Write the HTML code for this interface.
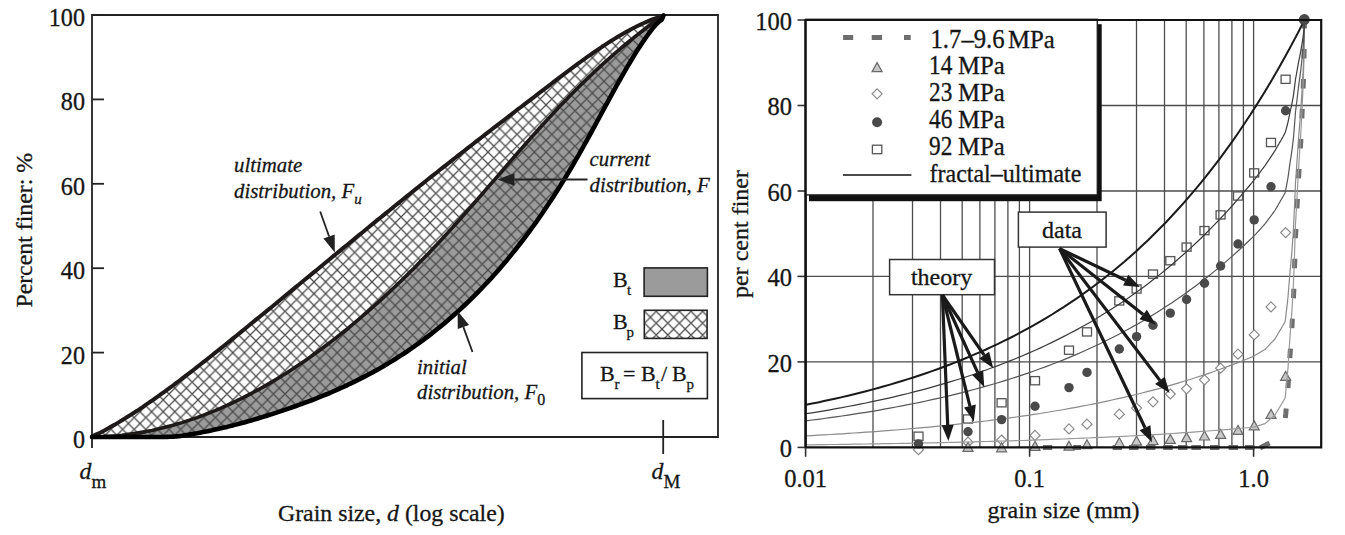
<!DOCTYPE html>
<html><head><meta charset="utf-8"><style>
html,body{margin:0;padding:0;background:#fff;}
svg{display:block;}
text{font-family:"Liberation Serif",serif;fill:#161616;stroke:#161616;stroke-width:0.3px;}
.tl{font-size:23px;}
.tr{font-size:24px;}
.ax{font-size:23.8px;}
.it{font-size:20.8px;font-style:italic;}
.sub{font-size:15px;font-style:italic;}
.subr{font-size:16px;font-style:normal;}
.lg{font-size:22px;}
.sub2{font-size:15px;}
.sub3{font-size:19px;font-style:normal;}
</style></head><body>
<svg width="1345" height="535" viewBox="0 0 1345 535">
<rect width="1345" height="535" fill="#fff"/>
<defs>
<pattern id="hatch" patternUnits="userSpaceOnUse" x="302.4" y="305.5" width="11.6" height="11.8"><path d="M0 0 L11.6 11.8 M11.6 0 L0 11.8 M-5.8 5.9 L0 11.8 M5.8 -5.9 L17.4 5.9 M-5.8 5.9 L5.8 -5.9 M5.8 17.7 L17.4 5.9" stroke="#4a4a4a" stroke-width="1.25" fill="none"/></pattern>
</defs>
<path d="M92 437 L95 434.8 L98 433.7 L101 432.3 L104 430.7 L107 429 L110 427.3 L113 425.6 L116 423.9 L119 422.1 L122 420.3 L125 418.4 L128 416.5 L131 414.6 L134 412.7 L137 410.8 L140 408.8 L143 406.8 L146 404.7 L149 402.7 L152 400.6 L155 398.5 L158 396.4 L161 394.2 L164 392.1 L167 389.9 L170 387.7 L173 385.5 L176 383.2 L179 381 L182 378.7 L185 376.4 L188 374.1 L191 371.8 L194 369.5 L197 367.2 L200 364.8 L203 362.4 L206 360.1 L209 357.7 L212 355.3 L215 352.9 L218 350.5 L221 348.1 L224 345.7 L227 343.3 L230 340.9 L233 338.4 L236 336 L239 333.6 L242 331.1 L245 328.7 L248 326.3 L251 323.8 L254 321.4 L257 318.9 L260 316.5 L263 314 L266 311.6 L269 309.1 L272 306.7 L275 304.2 L278 301.7 L281 299.3 L284 296.8 L287 294.3 L290 291.9 L293 289.4 L296 286.9 L299 284.5 L302 282 L305 279.5 L308 277.1 L311 274.6 L314 272.1 L317 269.7 L320 267.2 L323 264.7 L326 262.2 L329 259.8 L332 257.3 L335 254.8 L338 252.4 L341 249.9 L344 247.4 L347 245 L350 242.5 L353 240.1 L356 237.6 L359 235.1 L362 232.7 L365 230.2 L368 227.8 L371 225.3 L374 222.9 L377 220.4 L380 218 L383 215.6 L386 213.1 L389 210.7 L392 208.2 L395 205.8 L398 203.4 L401 201 L404 198.5 L407 196.1 L410 193.7 L413 191.3 L416 188.9 L419 186.5 L422 184.1 L425 181.7 L428 179.3 L431 176.9 L434 174.6 L437 172.2 L440 169.8 L443 167.4 L446 165.1 L449 162.7 L452 160.4 L455 158 L458 155.7 L461 153.3 L464 151 L467 148.6 L470 146.3 L473 144 L476 141.6 L479 139.3 L482 137 L485 134.6 L488 132.3 L491 130 L494 127.7 L497 125.4 L500 123.1 L503 120.8 L506 118.5 L509 116.2 L512 113.9 L515 111.5 L518 109.2 L521 107 L524 104.7 L527 102.4 L530 100.1 L533 97.8 L536 95.5 L539 93.2 L542 90.9 L545 88.6 L548 86.3 L551 84 L554 81.7 L557 79.4 L560 77.2 L563 74.9 L566 72.6 L569 70.4 L572 68.1 L575 65.9 L578 63.7 L581 61.5 L584 59.3 L587 57.2 L590 55.1 L593 53 L596 50.9 L599 48.8 L602 46.8 L605 44.9 L608 42.9 L611 41 L614 39.1 L617 37.3 L620 35.5 L623 33.8 L626 32.1 L629 30.4 L632 28.8 L635 27.3 L638 25.8 L641 24.4 L644 23 L647 21.7 L650 20.4 L653 19.2 L656 18.2 L659 17.3 L662 16.6 L663.4 15.5 L663.4 15.5 L662 17.9 L659 19.2 L656 20.9 L653 22.9 L650 25.2 L647 27.4 L644 29.7 L641 32 L638 34.3 L635 36.7 L632 39.1 L629 41.5 L626 44 L623 46.5 L620 49 L617 51.6 L614 54.2 L611 56.8 L608 59.5 L605 62.2 L602 64.9 L599 67.6 L596 70.4 L593 73.2 L590 76.1 L587 79 L584 81.9 L581 84.8 L578 87.8 L575 90.8 L572 93.8 L569 96.8 L566 99.9 L563 103 L560 106.1 L557 109.3 L554 112.5 L551 115.7 L548 118.9 L545 122.2 L542 125.5 L539 128.8 L536 132.2 L533 135.5 L530 138.9 L527 142.3 L524 145.7 L521 149.1 L518 152.5 L515 156 L512 159.4 L509 162.9 L506 166.4 L503 169.8 L500 173.3 L497 176.8 L494 180.3 L491 183.8 L488 187.2 L485 190.7 L482 194.2 L479 197.6 L476 201.1 L473 204.5 L470 207.9 L467 211.3 L464 214.7 L461 218.1 L458 221.5 L455 224.8 L452 228.1 L449 231.4 L446 234.7 L443 238 L440 241.2 L437 244.4 L434 247.6 L431 250.7 L428 253.9 L425 257 L422 260.1 L419 263.1 L416 266.2 L413 269.2 L410 272.1 L407 275.1 L404 278 L401 281 L398 283.8 L395 286.7 L392 289.5 L389 292.4 L386 295.1 L383 297.9 L380 300.6 L377 303.3 L374 306 L371 308.7 L368 311.3 L365 313.9 L362 316.5 L359 319.1 L356 321.6 L353 324.1 L350 326.6 L347 329.1 L344 331.5 L341 333.9 L338 336.3 L335 338.6 L332 340.9 L329 343.2 L326 345.5 L323 347.8 L320 350 L317 352.2 L314 354.3 L311 356.5 L308 358.6 L305 360.7 L302 362.7 L299 364.8 L296 366.8 L293 368.8 L290 370.7 L287 372.7 L284 374.5 L281 376.4 L278 378.3 L275 380.1 L272 381.9 L269 383.6 L266 385.4 L263 387.1 L260 388.8 L257 390.4 L254 392 L251 393.6 L248 395.2 L245 396.7 L242 398.3 L239 399.7 L236 401.2 L233 402.6 L230 404 L227 405.4 L224 406.7 L221 408.1 L218 409.3 L215 410.6 L212 411.8 L209 413 L206 414.2 L203 415.4 L200 416.5 L197 417.6 L194 418.6 L191 419.6 L188 420.6 L185 421.6 L182 422.6 L179 423.5 L176 424.3 L173 425.2 L170 426 L167 426.8 L164 427.6 L161 428.3 L158 429 L155 429.7 L152 430.4 L149 431 L146 431.6 L143 432.1 L140 432.6 L137 433.1 L134 433.6 L131 434 L128 434.4 L125 434.8 L122 435.2 L119 435.5 L116 435.8 L113 436 L110 436.2 L107 436.4 L104 436.6 L101 436.7 L98 436.8 L95 436.9 L92 437 Z" fill="#fff"/>
<path d="M92 437 L95 436.9 L98 436.8 L101 436.7 L104 436.6 L107 436.4 L110 436.2 L113 436 L116 435.8 L119 435.5 L122 435.2 L125 434.8 L128 434.4 L131 434 L134 433.6 L137 433.1 L140 432.6 L143 432.1 L146 431.6 L149 431 L152 430.4 L155 429.7 L158 429 L161 428.3 L164 427.6 L167 426.8 L170 426 L173 425.2 L176 424.3 L179 423.5 L182 422.6 L185 421.6 L188 420.6 L191 419.6 L194 418.6 L197 417.6 L200 416.5 L203 415.4 L206 414.2 L209 413 L212 411.8 L215 410.6 L218 409.3 L221 408.1 L224 406.7 L227 405.4 L230 404 L233 402.6 L236 401.2 L239 399.7 L242 398.3 L245 396.7 L248 395.2 L251 393.6 L254 392 L257 390.4 L260 388.8 L263 387.1 L266 385.4 L269 383.6 L272 381.9 L275 380.1 L278 378.3 L281 376.4 L284 374.5 L287 372.7 L290 370.7 L293 368.8 L296 366.8 L299 364.8 L302 362.7 L305 360.7 L308 358.6 L311 356.5 L314 354.3 L317 352.2 L320 350 L323 347.8 L326 345.5 L329 343.2 L332 340.9 L335 338.6 L338 336.3 L341 333.9 L344 331.5 L347 329.1 L350 326.6 L353 324.1 L356 321.6 L359 319.1 L362 316.5 L365 313.9 L368 311.3 L371 308.7 L374 306 L377 303.3 L380 300.6 L383 297.9 L386 295.1 L389 292.4 L392 289.5 L395 286.7 L398 283.8 L401 281 L404 278 L407 275.1 L410 272.1 L413 269.2 L416 266.2 L419 263.1 L422 260.1 L425 257 L428 253.9 L431 250.7 L434 247.6 L437 244.4 L440 241.2 L443 238 L446 234.7 L449 231.4 L452 228.1 L455 224.8 L458 221.5 L461 218.1 L464 214.7 L467 211.3 L470 207.9 L473 204.5 L476 201.1 L479 197.6 L482 194.2 L485 190.7 L488 187.2 L491 183.8 L494 180.3 L497 176.8 L500 173.3 L503 169.8 L506 166.4 L509 162.9 L512 159.4 L515 156 L518 152.5 L521 149.1 L524 145.7 L527 142.3 L530 138.9 L533 135.5 L536 132.2 L539 128.8 L542 125.5 L545 122.2 L548 118.9 L551 115.7 L554 112.5 L557 109.3 L560 106.1 L563 103 L566 99.9 L569 96.8 L572 93.8 L575 90.8 L578 87.8 L581 84.8 L584 81.9 L587 79 L590 76.1 L593 73.2 L596 70.4 L599 67.6 L602 64.9 L605 62.2 L608 59.5 L611 56.8 L614 54.2 L617 51.6 L620 49 L623 46.5 L626 44 L629 41.5 L632 39.1 L635 36.7 L638 34.3 L641 32 L644 29.7 L647 27.4 L650 25.2 L653 22.9 L656 20.9 L659 19.2 L662 17.9 L663.4 15.5 L663.4 15.5 L662 19.3 L659 21.6 L656 24.5 L653 27.9 L650 31.9 L647 36 L644 40.3 L641 44.7 L638 49.3 L635 54.1 L632 59 L629 64 L626 69.1 L623 74.3 L620 79.6 L617 84.9 L614 90.4 L611 95.8 L608 101.4 L605 106.9 L602 112.5 L599 118 L596 123.6 L593 129.1 L590 134.6 L587 140.1 L584 145.5 L581 150.9 L578 156.1 L575 161.4 L572 166.5 L569 171.6 L566 176.5 L563 181.4 L560 186.3 L557 191 L554 195.7 L551 200.3 L548 204.8 L545 209.3 L542 213.7 L539 218 L536 222.3 L533 226.5 L530 230.6 L527 234.6 L524 238.6 L521 242.5 L518 246.4 L515 250.2 L512 253.9 L509 257.6 L506 261.2 L503 264.8 L500 268.2 L497 271.7 L494 275 L491 278.4 L488 281.6 L485 284.8 L482 288 L479 291.1 L476 294.1 L473 297.1 L470 300.1 L467 303 L464 305.8 L461 308.6 L458 311.4 L455 314.1 L452 316.7 L449 319.3 L446 321.9 L443 324.4 L440 326.9 L437 329.3 L434 331.7 L431 334.1 L428 336.4 L425 338.7 L422 340.9 L419 343.1 L416 345.2 L413 347.3 L410 349.4 L407 351.5 L404 353.5 L401 355.4 L398 357.3 L395 359.2 L392 361.1 L389 362.9 L386 364.7 L383 366.5 L380 368.2 L377 369.9 L374 371.6 L371 373.2 L368 374.8 L365 376.4 L362 377.9 L359 379.4 L356 380.9 L353 382.4 L350 383.8 L347 385.3 L344 386.7 L341 388 L338 389.4 L335 390.7 L332 392 L329 393.3 L326 394.5 L323 395.7 L320 396.9 L317 398.1 L314 399.3 L311 400.5 L308 401.6 L305 402.7 L302 403.8 L299 404.9 L296 406 L293 407 L290 408.1 L287 409.1 L284 410.1 L281 411.1 L278 412.1 L275 413.1 L272 414.1 L269 415 L266 416 L263 416.9 L260 417.8 L257 418.7 L254 419.6 L251 420.5 L248 421.3 L245 422.2 L242 423 L239 423.8 L236 424.6 L233 425.4 L230 426.1 L227 426.9 L224 427.6 L221 428.3 L218 429 L215 429.6 L212 430.3 L209 430.9 L206 431.5 L203 432.1 L200 432.7 L197 433.3 L194 433.8 L191 434.3 L188 434.8 L185 435.2 L182 435.7 L179 436.1 L176 436.4 L173 436.6 L170 436.8 L167 436.9 L164 437 L161 437 L158 437 L155 437 L152 437 L149 437 L146 437 L143 437 L140 437 L137 437 L134 437 L131 437 L128 437 L125 437 L122 437 L119 437 L116 437 L113 437 L110 437 L107 437 L104 437 L101 437 L98 437 L95 437 L92 437 Z" fill="#9b9b9b"/>
<path d="M92 437 L95 434.8 L98 433.7 L101 432.3 L104 430.7 L107 429 L110 427.3 L113 425.6 L116 423.9 L119 422.1 L122 420.3 L125 418.4 L128 416.5 L131 414.6 L134 412.7 L137 410.8 L140 408.8 L143 406.8 L146 404.7 L149 402.7 L152 400.6 L155 398.5 L158 396.4 L161 394.2 L164 392.1 L167 389.9 L170 387.7 L173 385.5 L176 383.2 L179 381 L182 378.7 L185 376.4 L188 374.1 L191 371.8 L194 369.5 L197 367.2 L200 364.8 L203 362.4 L206 360.1 L209 357.7 L212 355.3 L215 352.9 L218 350.5 L221 348.1 L224 345.7 L227 343.3 L230 340.9 L233 338.4 L236 336 L239 333.6 L242 331.1 L245 328.7 L248 326.3 L251 323.8 L254 321.4 L257 318.9 L260 316.5 L263 314 L266 311.6 L269 309.1 L272 306.7 L275 304.2 L278 301.7 L281 299.3 L284 296.8 L287 294.3 L290 291.9 L293 289.4 L296 286.9 L299 284.5 L302 282 L305 279.5 L308 277.1 L311 274.6 L314 272.1 L317 269.7 L320 267.2 L323 264.7 L326 262.2 L329 259.8 L332 257.3 L335 254.8 L338 252.4 L341 249.9 L344 247.4 L347 245 L350 242.5 L353 240.1 L356 237.6 L359 235.1 L362 232.7 L365 230.2 L368 227.8 L371 225.3 L374 222.9 L377 220.4 L380 218 L383 215.6 L386 213.1 L389 210.7 L392 208.2 L395 205.8 L398 203.4 L401 201 L404 198.5 L407 196.1 L410 193.7 L413 191.3 L416 188.9 L419 186.5 L422 184.1 L425 181.7 L428 179.3 L431 176.9 L434 174.6 L437 172.2 L440 169.8 L443 167.4 L446 165.1 L449 162.7 L452 160.4 L455 158 L458 155.7 L461 153.3 L464 151 L467 148.6 L470 146.3 L473 144 L476 141.6 L479 139.3 L482 137 L485 134.6 L488 132.3 L491 130 L494 127.7 L497 125.4 L500 123.1 L503 120.8 L506 118.5 L509 116.2 L512 113.9 L515 111.5 L518 109.2 L521 107 L524 104.7 L527 102.4 L530 100.1 L533 97.8 L536 95.5 L539 93.2 L542 90.9 L545 88.6 L548 86.3 L551 84 L554 81.7 L557 79.4 L560 77.2 L563 74.9 L566 72.6 L569 70.4 L572 68.1 L575 65.9 L578 63.7 L581 61.5 L584 59.3 L587 57.2 L590 55.1 L593 53 L596 50.9 L599 48.8 L602 46.8 L605 44.9 L608 42.9 L611 41 L614 39.1 L617 37.3 L620 35.5 L623 33.8 L626 32.1 L629 30.4 L632 28.8 L635 27.3 L638 25.8 L641 24.4 L644 23 L647 21.7 L650 20.4 L653 19.2 L656 18.2 L659 17.3 L662 16.6 L663.4 15.5 L663.4 15.5 L662 19.3 L659 21.6 L656 24.5 L653 27.9 L650 31.9 L647 36 L644 40.3 L641 44.7 L638 49.3 L635 54.1 L632 59 L629 64 L626 69.1 L623 74.3 L620 79.6 L617 84.9 L614 90.4 L611 95.8 L608 101.4 L605 106.9 L602 112.5 L599 118 L596 123.6 L593 129.1 L590 134.6 L587 140.1 L584 145.5 L581 150.9 L578 156.1 L575 161.4 L572 166.5 L569 171.6 L566 176.5 L563 181.4 L560 186.3 L557 191 L554 195.7 L551 200.3 L548 204.8 L545 209.3 L542 213.7 L539 218 L536 222.3 L533 226.5 L530 230.6 L527 234.6 L524 238.6 L521 242.5 L518 246.4 L515 250.2 L512 253.9 L509 257.6 L506 261.2 L503 264.8 L500 268.2 L497 271.7 L494 275 L491 278.4 L488 281.6 L485 284.8 L482 288 L479 291.1 L476 294.1 L473 297.1 L470 300.1 L467 303 L464 305.8 L461 308.6 L458 311.4 L455 314.1 L452 316.7 L449 319.3 L446 321.9 L443 324.4 L440 326.9 L437 329.3 L434 331.7 L431 334.1 L428 336.4 L425 338.7 L422 340.9 L419 343.1 L416 345.2 L413 347.3 L410 349.4 L407 351.5 L404 353.5 L401 355.4 L398 357.3 L395 359.2 L392 361.1 L389 362.9 L386 364.7 L383 366.5 L380 368.2 L377 369.9 L374 371.6 L371 373.2 L368 374.8 L365 376.4 L362 377.9 L359 379.4 L356 380.9 L353 382.4 L350 383.8 L347 385.3 L344 386.7 L341 388 L338 389.4 L335 390.7 L332 392 L329 393.3 L326 394.5 L323 395.7 L320 396.9 L317 398.1 L314 399.3 L311 400.5 L308 401.6 L305 402.7 L302 403.8 L299 404.9 L296 406 L293 407 L290 408.1 L287 409.1 L284 410.1 L281 411.1 L278 412.1 L275 413.1 L272 414.1 L269 415 L266 416 L263 416.9 L260 417.8 L257 418.7 L254 419.6 L251 420.5 L248 421.3 L245 422.2 L242 423 L239 423.8 L236 424.6 L233 425.4 L230 426.1 L227 426.9 L224 427.6 L221 428.3 L218 429 L215 429.6 L212 430.3 L209 430.9 L206 431.5 L203 432.1 L200 432.7 L197 433.3 L194 433.8 L191 434.3 L188 434.8 L185 435.2 L182 435.7 L179 436.1 L176 436.4 L173 436.6 L170 436.8 L167 436.9 L164 437 L161 437 L158 437 L155 437 L152 437 L149 437 L146 437 L143 437 L140 437 L137 437 L134 437 L131 437 L128 437 L125 437 L122 437 L119 437 L116 437 L113 437 L110 437 L107 437 L104 437 L101 437 L98 437 L95 437 L92 437 Z" fill="url(#hatch)"/>
<path d="M92 15 H718 V437 H92 Z" fill="none" stroke="#222" stroke-width="1.8"/>
<path d="M92 15 H104" stroke="#222" stroke-width="1.8"/>
<text transform="translate(85,26) scale(1.05,1.08)" text-anchor="end" class="tl">100</text>
<path d="M92 99.4 H104" stroke="#222" stroke-width="1.8"/>
<text transform="translate(85,110.4) scale(1.05,1.08)" text-anchor="end" class="tl">80</text>
<path d="M92 183.8 H104" stroke="#222" stroke-width="1.8"/>
<text transform="translate(85,194.8) scale(1.05,1.08)" text-anchor="end" class="tl">60</text>
<path d="M92 268.2 H104" stroke="#222" stroke-width="1.8"/>
<text transform="translate(85,279.2) scale(1.05,1.08)" text-anchor="end" class="tl">40</text>
<path d="M92 352.6 H104" stroke="#222" stroke-width="1.8"/>
<text transform="translate(85,363.6) scale(1.05,1.08)" text-anchor="end" class="tl">20</text>
<path d="M92 437 H104" stroke="#222" stroke-width="1.8"/>
<text transform="translate(85,448) scale(1.05,1.08)" text-anchor="end" class="tl">0</text>
<path d="M92 437 V448 M663.2 420 V454" stroke="#222" stroke-width="1.8" fill="none"/>
<path d="M92 437 L95 434.8 L98 433.7 L101 432.3 L104 430.7 L107 429 L110 427.3 L113 425.6 L116 423.9 L119 422.1 L122 420.3 L125 418.4 L128 416.5 L131 414.6 L134 412.7 L137 410.8 L140 408.8 L143 406.8 L146 404.7 L149 402.7 L152 400.6 L155 398.5 L158 396.4 L161 394.2 L164 392.1 L167 389.9 L170 387.7 L173 385.5 L176 383.2 L179 381 L182 378.7 L185 376.4 L188 374.1 L191 371.8 L194 369.5 L197 367.2 L200 364.8 L203 362.4 L206 360.1 L209 357.7 L212 355.3 L215 352.9 L218 350.5 L221 348.1 L224 345.7 L227 343.3 L230 340.9 L233 338.4 L236 336 L239 333.6 L242 331.1 L245 328.7 L248 326.3 L251 323.8 L254 321.4 L257 318.9 L260 316.5 L263 314 L266 311.6 L269 309.1 L272 306.7 L275 304.2 L278 301.7 L281 299.3 L284 296.8 L287 294.3 L290 291.9 L293 289.4 L296 286.9 L299 284.5 L302 282 L305 279.5 L308 277.1 L311 274.6 L314 272.1 L317 269.7 L320 267.2 L323 264.7 L326 262.2 L329 259.8 L332 257.3 L335 254.8 L338 252.4 L341 249.9 L344 247.4 L347 245 L350 242.5 L353 240.1 L356 237.6 L359 235.1 L362 232.7 L365 230.2 L368 227.8 L371 225.3 L374 222.9 L377 220.4 L380 218 L383 215.6 L386 213.1 L389 210.7 L392 208.2 L395 205.8 L398 203.4 L401 201 L404 198.5 L407 196.1 L410 193.7 L413 191.3 L416 188.9 L419 186.5 L422 184.1 L425 181.7 L428 179.3 L431 176.9 L434 174.6 L437 172.2 L440 169.8 L443 167.4 L446 165.1 L449 162.7 L452 160.4 L455 158 L458 155.7 L461 153.3 L464 151 L467 148.6 L470 146.3 L473 144 L476 141.6 L479 139.3 L482 137 L485 134.6 L488 132.3 L491 130 L494 127.7 L497 125.4 L500 123.1 L503 120.8 L506 118.5 L509 116.2 L512 113.9 L515 111.5 L518 109.2 L521 107 L524 104.7 L527 102.4 L530 100.1 L533 97.8 L536 95.5 L539 93.2 L542 90.9 L545 88.6 L548 86.3 L551 84 L554 81.7 L557 79.4 L560 77.2 L563 74.9 L566 72.6 L569 70.4 L572 68.1 L575 65.9 L578 63.7 L581 61.5 L584 59.3 L587 57.2 L590 55.1 L593 53 L596 50.9 L599 48.8 L602 46.8 L605 44.9 L608 42.9 L611 41 L614 39.1 L617 37.3 L620 35.5 L623 33.8 L626 32.1 L629 30.4 L632 28.8 L635 27.3 L638 25.8 L641 24.4 L644 23 L647 21.7 L650 20.4 L653 19.2 L656 18.2 L659 17.3 L662 16.6 L663.4 15.5" fill="none" stroke="#1e1a1a" stroke-width="4" stroke-linejoin="round" stroke-linecap="round"/>
<path d="M92 437 L95 436.9 L98 436.8 L101 436.7 L104 436.6 L107 436.4 L110 436.2 L113 436 L116 435.8 L119 435.5 L122 435.2 L125 434.8 L128 434.4 L131 434 L134 433.6 L137 433.1 L140 432.6 L143 432.1 L146 431.6 L149 431 L152 430.4 L155 429.7 L158 429 L161 428.3 L164 427.6 L167 426.8 L170 426 L173 425.2 L176 424.3 L179 423.5 L182 422.6 L185 421.6 L188 420.6 L191 419.6 L194 418.6 L197 417.6 L200 416.5 L203 415.4 L206 414.2 L209 413 L212 411.8 L215 410.6 L218 409.3 L221 408.1 L224 406.7 L227 405.4 L230 404 L233 402.6 L236 401.2 L239 399.7 L242 398.3 L245 396.7 L248 395.2 L251 393.6 L254 392 L257 390.4 L260 388.8 L263 387.1 L266 385.4 L269 383.6 L272 381.9 L275 380.1 L278 378.3 L281 376.4 L284 374.5 L287 372.7 L290 370.7 L293 368.8 L296 366.8 L299 364.8 L302 362.7 L305 360.7 L308 358.6 L311 356.5 L314 354.3 L317 352.2 L320 350 L323 347.8 L326 345.5 L329 343.2 L332 340.9 L335 338.6 L338 336.3 L341 333.9 L344 331.5 L347 329.1 L350 326.6 L353 324.1 L356 321.6 L359 319.1 L362 316.5 L365 313.9 L368 311.3 L371 308.7 L374 306 L377 303.3 L380 300.6 L383 297.9 L386 295.1 L389 292.4 L392 289.5 L395 286.7 L398 283.8 L401 281 L404 278 L407 275.1 L410 272.1 L413 269.2 L416 266.2 L419 263.1 L422 260.1 L425 257 L428 253.9 L431 250.7 L434 247.6 L437 244.4 L440 241.2 L443 238 L446 234.7 L449 231.4 L452 228.1 L455 224.8 L458 221.5 L461 218.1 L464 214.7 L467 211.3 L470 207.9 L473 204.5 L476 201.1 L479 197.6 L482 194.2 L485 190.7 L488 187.2 L491 183.8 L494 180.3 L497 176.8 L500 173.3 L503 169.8 L506 166.4 L509 162.9 L512 159.4 L515 156 L518 152.5 L521 149.1 L524 145.7 L527 142.3 L530 138.9 L533 135.5 L536 132.2 L539 128.8 L542 125.5 L545 122.2 L548 118.9 L551 115.7 L554 112.5 L557 109.3 L560 106.1 L563 103 L566 99.9 L569 96.8 L572 93.8 L575 90.8 L578 87.8 L581 84.8 L584 81.9 L587 79 L590 76.1 L593 73.2 L596 70.4 L599 67.6 L602 64.9 L605 62.2 L608 59.5 L611 56.8 L614 54.2 L617 51.6 L620 49 L623 46.5 L626 44 L629 41.5 L632 39.1 L635 36.7 L638 34.3 L641 32 L644 29.7 L647 27.4 L650 25.2 L653 22.9 L656 20.9 L659 19.2 L662 17.9 L663.4 15.5" fill="none" stroke="#1e1a1a" stroke-width="3.6" stroke-linejoin="round" stroke-linecap="round"/>
<path d="M92 437 L95 437 L98 437 L101 437 L104 437 L107 437 L110 437 L113 437 L116 437 L119 437 L122 437 L125 437 L128 437 L131 437 L134 437 L137 437 L140 437 L143 437 L146 437 L149 437 L152 437 L155 437 L158 437 L161 437 L164 437 L167 436.9 L170 436.8 L173 436.6 L176 436.4 L179 436.1 L182 435.7 L185 435.2 L188 434.8 L191 434.3 L194 433.8 L197 433.3 L200 432.7 L203 432.1 L206 431.5 L209 430.9 L212 430.3 L215 429.6 L218 429 L221 428.3 L224 427.6 L227 426.9 L230 426.1 L233 425.4 L236 424.6 L239 423.8 L242 423 L245 422.2 L248 421.3 L251 420.5 L254 419.6 L257 418.7 L260 417.8 L263 416.9 L266 416 L269 415 L272 414.1 L275 413.1 L278 412.1 L281 411.1 L284 410.1 L287 409.1 L290 408.1 L293 407 L296 406 L299 404.9 L302 403.8 L305 402.7 L308 401.6 L311 400.5 L314 399.3 L317 398.1 L320 396.9 L323 395.7 L326 394.5 L329 393.3 L332 392 L335 390.7 L338 389.4 L341 388 L344 386.7 L347 385.3 L350 383.8 L353 382.4 L356 380.9 L359 379.4 L362 377.9 L365 376.4 L368 374.8 L371 373.2 L374 371.6 L377 369.9 L380 368.2 L383 366.5 L386 364.7 L389 362.9 L392 361.1 L395 359.2 L398 357.3 L401 355.4 L404 353.5 L407 351.5 L410 349.4 L413 347.3 L416 345.2 L419 343.1 L422 340.9 L425 338.7 L428 336.4 L431 334.1 L434 331.7 L437 329.3 L440 326.9 L443 324.4 L446 321.9 L449 319.3 L452 316.7 L455 314.1 L458 311.4 L461 308.6 L464 305.8 L467 303 L470 300.1 L473 297.1 L476 294.1 L479 291.1 L482 288 L485 284.8 L488 281.6 L491 278.4 L494 275 L497 271.7 L500 268.2 L503 264.8 L506 261.2 L509 257.6 L512 253.9 L515 250.2 L518 246.4 L521 242.5 L524 238.6 L527 234.6 L530 230.6 L533 226.5 L536 222.3 L539 218 L542 213.7 L545 209.3 L548 204.8 L551 200.3 L554 195.7 L557 191 L560 186.3 L563 181.4 L566 176.5 L569 171.6 L572 166.5 L575 161.4 L578 156.1 L581 150.9 L584 145.5 L587 140.1 L590 134.6 L593 129.1 L596 123.6 L599 118 L602 112.5 L605 106.9 L608 101.4 L611 95.8 L614 90.4 L617 84.9 L620 79.6 L623 74.3 L626 69.1 L629 64 L632 59 L635 54.1 L638 49.3 L641 44.7 L644 40.3 L647 36 L650 31.9 L653 27.9 L656 24.5 L659 21.6 L662 19.3 L663.4 15.5" fill="none" stroke="#000" stroke-width="4.6" stroke-linejoin="round" stroke-linecap="round"/>
<path d="M320.2 211.5 L329.1 236.5" stroke="#222" stroke-width="1.8"/><path d="M334.8 252.5 L323.4 238.5 L334.7 234.5 Z" fill="#222"/>
<path d="M587.5 179.5 L514.5 179.5" stroke="#222" stroke-width="1.8"/><path d="M497.5 179.5 L514.5 173.2 L514.5 185.8 Z" fill="#222"/>
<path d="M472.5 352 L463.4 327.1" stroke="#222" stroke-width="1.8"/><path d="M457.6 311.1 L469.1 325 L457.8 329.1 Z" fill="#222"/>
<text x="234" y="172" class="it">ultimate</text>
<text x="234" y="197.8" class="it">distribution, F<tspan dy="6.5" class="sub">u</tspan></text>
<text x="589.5" y="165.6" class="it">current</text>
<text x="589.5" y="191.6" class="it">distribution, F</text>
<text x="417" y="373.6" class="it">initial</text>
<text x="417" y="399.1" class="it">distribution, F<tspan dy="5.5" class="subr">0</tspan></text>
<rect x="644.1" y="267.9" width="63.3" height="28.4" fill="#9b9b9b" stroke="#222" stroke-width="1.6"/>
<rect x="644.3" y="310.3" width="62.8" height="28.1" fill="#fff" stroke="none"/>
<rect x="644.3" y="310.3" width="62.8" height="28.1" fill="url(#hatch)" stroke="#222" stroke-width="1.6"/>
<rect x="581.9" y="352.5" width="125.5" height="46.1" fill="#fff" stroke="#222" stroke-width="1.6"/>
<text x="613" y="287.4" class="lg">B</text><text x="627" y="295" class="sub2">t</text>
<text x="613" y="329.2" class="lg">B</text><text x="626.5" y="336.5" class="sub2">p</text>
<text x="600" y="381" class="lg">B</text><text x="614.5" y="388.5" class="sub2">r</text>
<text x="623" y="381" class="lg">=</text>
<text x="641" y="381" class="lg">B</text><text x="655.5" y="388.5" class="sub2">t</text>
<text x="661" y="381" class="lg">/</text>
<text x="672" y="381" class="lg">B</text><text x="686.5" y="388.5" class="sub2">p</text>
<text x="79.6" y="478.5" class="ax"><tspan font-style="italic">d</tspan><tspan dy="9" class="sub3">m</tspan></text>
<text x="651.6" y="479" class="ax"><tspan font-style="italic">d</tspan><tspan dy="9" class="sub3">M</tspan></text>
<text x="278" y="520.7" class="ax">Grain size, <tspan font-style="italic">d</tspan> (log scale)</text>
<text transform="translate(31.9,307.6) rotate(-90)" class="ax">Percent finer: %</text>
<g stroke="#4d4d4d" stroke-width="1.3">
<path d="M873 20 V447.4"/>
<path d="M912.5 20 V447.4"/>
<path d="M940.5 20 V447.4"/>
<path d="M962.2 20 V447.4"/>
<path d="M979.9 20 V447.4"/>
<path d="M994.9 20 V447.4"/>
<path d="M1007.9 20 V447.4"/>
<path d="M1019.4 20 V447.4"/>
<path d="M1029.6 20 V447.4"/>
<path d="M1097 20 V447.4"/>
<path d="M1136.5 20 V447.4"/>
<path d="M1164.5 20 V447.4"/>
<path d="M1186.2 20 V447.4"/>
<path d="M1203.9 20 V447.4"/>
<path d="M1218.9 20 V447.4"/>
<path d="M1231.9 20 V447.4"/>
<path d="M1243.4 20 V447.4"/>
<path d="M1253.6 20 V447.4"/>
<path d="M805.6 361.9 H1321.2"/>
<path d="M805.6 276.4 H1321.2"/>
<path d="M805.6 191 H1321.2"/>
<path d="M805.6 105.5 H1321.2"/>
</g>
<path d="M1042.9 447.6 H1052.2 M1073.3 447.6 H1081" stroke="#6e6e6e" stroke-width="5"/>
<path d="M1112.6 447.6 h9.5 M1129 447.6 h9.5 M1146 447.6 h9.5 M1163.2 447.6 h9.5 M1178 447.6 h9.5 M1191.4 447.6 h9.5 M1210 447.6 h9.5 M1228.6 447.6 h9.5 M1245 447.6 h9.5" stroke="#6e6e6e" stroke-width="5"/>
<path d="M1260 448 L1269.5 443" stroke="#6e6e6e" stroke-width="5"/>
<path d="M1304.5 20 L1304.2 41.4 L1304 58.1 L1303.8 67.8 L1303.5 77.6 L1303.2 86.5 L1303 92.3 L1302.8 98 L1302.5 103.8 L1302.2 109.6 L1302 115.3 L1301.8 120.4 L1301.5 125.6 L1301.2 130.7 L1301 135.8 L1300.8 141 L1300.5 146.1 L1300.2 150.1 L1300 154.2 L1299.8 158.2 L1299.5 162.3 L1299.2 166.3 L1299 170.4 L1298.8 174.4 L1298.5 178.8 L1298.2 183.7 L1298 188.7 L1297.8 193.6 L1297.5 198.5 L1297.2 203.4 L1297 208.2 L1296.8 212.9 L1296.5 217.6 L1296.2 222.2 L1296 226.9 L1295.8 231.6 L1295.5 236.3 L1295.2 244.2 L1295 252.1 L1294.8 260 L1294.5 267.9 L1294.2 275.4 L1294 282.9 L1293.8 290.3 L1293.5 297.8 L1293.2 302.5 L1293 307.2 L1292.8 312 L1292.5 316.7 L1292.2 321.4 L1292 326.1 L1291.8 330.6 L1291.5 334.1 L1291.2 337.7 L1291 341.3 L1290.8 344.8 L1290.5 348.4 L1290.2 351.9 L1290 355.5 L1289.8 359.1 L1289.5 363.1 L1289.2 367.3 L1289 371.4 L1288.8 375.6 L1288.5 379.7 L1288.2 383.9 L1288 388 L1287.8 391.4 L1287.5 394.1 L1287.2 396.9 L1287 399.7 L1286.8 402.4 L1286.5 405.2 L1286.2 408 L1286 410.8 L1285.8 413.5 L1285.5 416.3 L1285.2 419.1 L1285 420 L1284.8 420.4 L1284.5 420.8 L1284.2 421.2 L1284 421.6 L1283.8 422 L1283.5 422.5 L1283.2 422.9 L1283 423.3 L1282.8 423.7 L1282.5 424.1 L1282.2 424.6 L1282 425 L1281.8 425.4 L1281.5 425.8 L1281.2 426.2 L1281 426.7 L1280.8 427.1 L1280.5 427.5 L1280.2 427.9" fill="none" stroke="#6e6e6e" stroke-width="5" stroke-dasharray="9.5 20.5" stroke-dashoffset="1"/>
<path d="M918.5 444.7 L923.5 449.7 L918.5 454.7 L913.5 449.7 Z" fill="#fff" stroke="#8a8a8a" stroke-width="1.2"/>
<path d="M968 437.2 L973 442.2 L968 447.2 L963 442.2 Z" fill="#fff" stroke="#8a8a8a" stroke-width="1.2"/>
<path d="M1001.6 435 L1006.6 440 L1001.6 445 L996.6 440 Z" fill="#fff" stroke="#8a8a8a" stroke-width="1.2"/>
<path d="M1035 430.4 L1040 435.4 L1035 440.4 L1030 435.4 Z" fill="#fff" stroke="#8a8a8a" stroke-width="1.2"/>
<path d="M1069 423.9 L1074 428.9 L1069 433.9 L1064 428.9 Z" fill="#fff" stroke="#8a8a8a" stroke-width="1.2"/>
<path d="M1087 419.2 L1092 424.2 L1087 429.2 L1082 424.2 Z" fill="#fff" stroke="#8a8a8a" stroke-width="1.2"/>
<path d="M1119.3 409.2 L1124.3 414.2 L1119.3 419.2 L1114.3 414.2 Z" fill="#fff" stroke="#8a8a8a" stroke-width="1.2"/>
<path d="M1136.6 403.1 L1141.6 408.1 L1136.6 413.1 L1131.6 408.1 Z" fill="#fff" stroke="#8a8a8a" stroke-width="1.2"/>
<path d="M1153 396.8 L1158 401.8 L1153 406.8 L1148 401.8 Z" fill="#fff" stroke="#8a8a8a" stroke-width="1.2"/>
<path d="M1170.3 389 L1175.3 394 L1170.3 399 L1165.3 394 Z" fill="#fff" stroke="#8a8a8a" stroke-width="1.2"/>
<path d="M1186.6 383.8 L1191.6 388.8 L1186.6 393.8 L1181.6 388.8 Z" fill="#fff" stroke="#8a8a8a" stroke-width="1.2"/>
<path d="M1204.5 374.8 L1209.5 379.8 L1204.5 384.8 L1199.5 379.8 Z" fill="#fff" stroke="#8a8a8a" stroke-width="1.2"/>
<path d="M1220.6 363.2 L1225.6 368.2 L1220.6 373.2 L1215.6 368.2 Z" fill="#fff" stroke="#8a8a8a" stroke-width="1.2"/>
<path d="M1238 349.2 L1243 354.2 L1238 359.2 L1233 354.2 Z" fill="#fff" stroke="#8a8a8a" stroke-width="1.2"/>
<path d="M1254.2 329.9 L1259.2 334.9 L1254.2 339.9 L1249.2 334.9 Z" fill="#fff" stroke="#8a8a8a" stroke-width="1.2"/>
<path d="M1271 301.9 L1276 306.9 L1271 311.9 L1266 306.9 Z" fill="#fff" stroke="#8a8a8a" stroke-width="1.2"/>
<path d="M1285.6 227.6 L1290.6 232.6 L1285.6 237.6 L1280.6 232.6 Z" fill="#fff" stroke="#8a8a8a" stroke-width="1.2"/>
<path d="M968 442.3 L973 451.3 L963 451.3 Z" fill="#c8c8c8" stroke="#6a6a6a" stroke-width="1.2"/>
<path d="M1001.6 442.8 L1006.6 451.8 L996.6 451.8 Z" fill="#c8c8c8" stroke="#6a6a6a" stroke-width="1.2"/>
<path d="M1035 441.4 L1040 450.4 L1030 450.4 Z" fill="#c8c8c8" stroke="#6a6a6a" stroke-width="1.2"/>
<path d="M1069 441.2 L1074 450.2 L1064 450.2 Z" fill="#c8c8c8" stroke="#6a6a6a" stroke-width="1.2"/>
<path d="M1087 439.7 L1092 448.7 L1082 448.7 Z" fill="#c8c8c8" stroke="#6a6a6a" stroke-width="1.2"/>
<path d="M1119.3 437.7 L1124.3 446.7 L1114.3 446.7 Z" fill="#c8c8c8" stroke="#6a6a6a" stroke-width="1.2"/>
<path d="M1136.6 436.2 L1141.6 445.2 L1131.6 445.2 Z" fill="#c8c8c8" stroke="#6a6a6a" stroke-width="1.2"/>
<path d="M1153 435.5 L1158 444.5 L1148 444.5 Z" fill="#c8c8c8" stroke="#6a6a6a" stroke-width="1.2"/>
<path d="M1170.3 434.4 L1175.3 443.4 L1165.3 443.4 Z" fill="#c8c8c8" stroke="#6a6a6a" stroke-width="1.2"/>
<path d="M1186.6 432.6 L1191.6 441.6 L1181.6 441.6 Z" fill="#c8c8c8" stroke="#6a6a6a" stroke-width="1.2"/>
<path d="M1204.5 431 L1209.5 440 L1199.5 440 Z" fill="#c8c8c8" stroke="#6a6a6a" stroke-width="1.2"/>
<path d="M1220.6 429.4 L1225.6 438.4 L1215.6 438.4 Z" fill="#c8c8c8" stroke="#6a6a6a" stroke-width="1.2"/>
<path d="M1238 425.4 L1243 434.4 L1233 434.4 Z" fill="#c8c8c8" stroke="#6a6a6a" stroke-width="1.2"/>
<path d="M1254.2 420.9 L1259.2 429.9 L1249.2 429.9 Z" fill="#c8c8c8" stroke="#6a6a6a" stroke-width="1.2"/>
<path d="M1271 409.4 L1276 418.4 L1266 418.4 Z" fill="#c8c8c8" stroke="#6a6a6a" stroke-width="1.2"/>
<path d="M1285.6 371.4 L1290.6 380.4 L1280.6 380.4 Z" fill="#c8c8c8" stroke="#6a6a6a" stroke-width="1.2"/>
<rect x="914" y="432.1" width="9" height="8.2" fill="none" stroke="#555" stroke-width="1.3"/>
<rect x="963.5" y="414.9" width="9" height="8.2" fill="none" stroke="#555" stroke-width="1.3"/>
<rect x="997.1" y="398.7" width="9" height="8.2" fill="none" stroke="#555" stroke-width="1.3"/>
<rect x="1030.5" y="376.6" width="9" height="8.2" fill="none" stroke="#555" stroke-width="1.3"/>
<rect x="1064.5" y="346.1" width="9" height="8.2" fill="none" stroke="#555" stroke-width="1.3"/>
<rect x="1082.5" y="327.8" width="9" height="8.2" fill="none" stroke="#555" stroke-width="1.3"/>
<rect x="1114.8" y="296.8" width="9" height="8.2" fill="none" stroke="#555" stroke-width="1.3"/>
<rect x="1132.1" y="284.9" width="9" height="8.2" fill="none" stroke="#555" stroke-width="1.3"/>
<rect x="1148.5" y="270" width="9" height="8.2" fill="none" stroke="#555" stroke-width="1.3"/>
<rect x="1165.8" y="256.6" width="9" height="8.2" fill="none" stroke="#555" stroke-width="1.3"/>
<rect x="1182.1" y="243" width="9" height="8.2" fill="none" stroke="#555" stroke-width="1.3"/>
<rect x="1200" y="226.5" width="9" height="8.2" fill="none" stroke="#555" stroke-width="1.3"/>
<rect x="1216.1" y="210.8" width="9" height="8.2" fill="none" stroke="#555" stroke-width="1.3"/>
<rect x="1233.5" y="191.9" width="9" height="8.2" fill="none" stroke="#555" stroke-width="1.3"/>
<rect x="1249.7" y="168.8" width="9" height="8.2" fill="none" stroke="#555" stroke-width="1.3"/>
<rect x="1266.5" y="138.4" width="9" height="8.2" fill="none" stroke="#555" stroke-width="1.3"/>
<rect x="1281.1" y="75.2" width="9" height="8.2" fill="none" stroke="#555" stroke-width="1.3"/>
<path d="M806 444.8 L812 444.8 L818 444.7 L824 444.6 L830 444.5 L836 444.5 L842 444.4 L848 444.3 L854 444.2 L860 444.1 L866 444 L872 443.9 L878 443.8 L884 443.7 L890 443.6 L896 443.5 L902 443.4 L908 443.3 L914 443.2 L920 443.1 L926 442.9 L932 442.8 L938 442.7 L944 442.6 L950 442.4 L956 442.3 L962 442.1 L968 442 L974 441.8 L980 441.7 L986 441.5 L992 441.4 L998 441.2 L1004 441 L1010 440.8 L1016 440.6 L1022 440.5 L1028 440.3 L1034 440.1 L1040 439.9 L1046 439.6 L1052 439.4 L1058 439.2 L1064 439 L1070 438.7 L1076 438.5 L1082 438.2 L1088 438 L1094 437.7 L1100 437.4 L1106 437.2 L1112 436.9 L1118 436.6 L1124 436.3 L1130 436 L1136 435.6 L1142 435.3 L1148 435 L1154 434.6 L1160 434.3 L1166 433.9 L1172 433.5 L1178 433.1 L1184 432.7 L1190 432.3 L1196 431.9 L1202 431.4 L1208 431 L1214 430.5 L1220 430.1 L1226 429.6 L1232 429.1 L1238 428.5 L1244 428 L1250 427.5 L1250.5 427.4 L1251 427.4 L1251.5 427.3 L1252 427.3 L1252.5 427.2 L1253 427.2 L1253.5 427.1 L1254 427 L1254.5 426.9 L1255 426.7 L1255.5 426.6 L1256 426.4 L1256.5 426.2 L1257 426.1 L1257.5 425.9 L1258 425.8 L1258.5 425.6 L1259 425.5 L1259.5 425.3 L1260 425.2 L1260.5 425 L1261 424.9 L1261.5 424.7 L1262 424.6 L1262.5 424.4 L1263 424.2 L1263.5 424.1 L1264 423.9 L1264.5 423.8 L1265 423.6 L1265.5 423.2 L1266 422.8 L1266.5 422.3 L1267 421.9 L1267.5 421.5 L1268 421 L1268.5 420.6 L1269 420.2 L1269.5 419.7 L1270 419.3 L1270.5 418.9 L1271 418.4 L1271.5 418 L1272 417.6 L1272.5 417.1 L1273 416.7 L1273.5 416.3 L1274 415.8 L1274.5 415.4 L1275 415 L1275.5 414.1 L1276 413.3 L1276.5 412.5 L1277 411.6 L1277.5 410.8 L1278 409.9 L1278.5 409.1 L1279 408.3 L1279.5 407.4 L1280 406.6 L1280.5 405.7 L1281 404.9 L1281.5 404.1 L1282 403.2 L1282.5 402.4 L1283 401.5 L1283.5 400.7 L1284 399.9 L1284.5 399 L1285 398.2 L1285.5 394.7 L1286 389.4 L1286.5 384.1 L1287 378.9 L1287.5 373.6 L1288 367.8 L1288.5 360 L1289 352.1 L1289.5 344.2 L1290 337 L1290.5 330.3 L1291 323.5 L1291.5 316.8 L1292 309.2 L1292.5 300.3 L1293 291.3 L1293.5 282.4 L1294 268.3 L1294.5 254.2 L1295 239.3 L1295.5 224.3 L1296 215.5 L1296.5 206.6 L1297 197.8 L1297.5 188.6 L1298 179.3 L1298.5 170 L1299 162 L1299.5 154.3 L1300 146.7 L1300.5 139 L1301 129.3 L1301.5 119.6 L1302 109.9 L1302.5 99 L1303 88.1 L1303.5 74.3 L1304 55.9 L1304.5 20 L1304.5 20" fill="none" stroke="#999" stroke-width="1.2"/>
<path d="M806 435.9 L812 435.6 L818 435.2 L824 434.9 L830 434.5 L836 434.2 L842 433.8 L848 433.4 L854 433 L860 432.6 L866 432.2 L872 431.8 L878 431.4 L884 430.9 L890 430.4 L896 430 L902 429.5 L908 429 L914 428.4 L920 427.9 L926 427.4 L932 426.8 L938 426.2 L944 425.6 L950 425 L956 424.4 L962 423.7 L968 423.1 L974 422.4 L980 421.7 L986 421 L992 420.2 L998 419.4 L1004 418.7 L1010 417.8 L1016 417 L1022 416.2 L1028 415.3 L1034 414.4 L1040 413.5 L1046 412.5 L1052 411.5 L1058 410.5 L1064 409.5 L1070 408.4 L1076 407.3 L1082 406.2 L1088 405 L1094 403.8 L1100 402.6 L1106 401.3 L1112 400 L1118 398.7 L1124 397.3 L1130 395.9 L1136 394.5 L1142 393 L1148 391.4 L1154 389.9 L1160 388.3 L1166 386.6 L1172 384.9 L1178 383.1 L1184 381.3 L1190 379.5 L1196 377.5 L1202 375.6 L1208 373.6 L1214 371.5 L1220 369.3 L1226 367.1 L1232 364.9 L1238 362.6 L1244 360.2 L1250 357.7 L1250.5 357.5 L1251 357.3 L1251.5 357.1 L1252 356.9 L1252.5 356.7 L1253 356.5 L1253.5 356.3 L1254 356 L1254.5 355.7 L1255 355.4 L1255.5 355.1 L1256 354.8 L1256.5 354.5 L1257 354.2 L1257.5 353.9 L1258 353.6 L1258.5 353.3 L1259 353 L1259.5 352.7 L1260 352.4 L1260.5 352.1 L1261 351.8 L1261.5 351.5 L1262 351.2 L1262.5 350.9 L1263 350.6 L1263.5 350.3 L1264 350 L1264.5 349.7 L1265 349.4 L1265.5 348.9 L1266 348.4 L1266.5 347.8 L1267 347.3 L1267.5 346.8 L1268 346.3 L1268.5 345.8 L1269 345.2 L1269.5 344.7 L1270 344.2 L1270.5 343.7 L1271 343.1 L1271.5 342.6 L1272 342.1 L1272.5 341.6 L1273 341 L1273.5 340.5 L1274 340 L1274.5 339.5 L1275 338.9 L1275.5 338.1 L1276 337.2 L1276.5 336.4 L1277 335.5 L1277.5 334.7 L1278 333.8 L1278.5 333 L1279 332.1 L1279.5 331.3 L1280 330.4 L1280.5 329.6 L1281 328.7 L1281.5 327.9 L1282 327 L1282.5 326.2 L1283 325.3 L1283.5 324.5 L1284 323.6 L1284.5 322.8 L1285 321.9 L1285.5 319 L1286 314.7 L1286.5 310.4 L1287 306.1 L1287.5 301.8 L1288 297.1 L1288.5 290.8 L1289 284.5 L1289.5 278.2 L1290 272.4 L1290.5 267 L1291 261.5 L1291.5 256.1 L1292 249.9 L1292.5 242.8 L1293 235.7 L1293.5 228.5 L1294 217.4 L1294.5 206.2 L1295 194.4 L1295.5 182.6 L1296 175.5 L1296.5 168.4 L1297 161.3 L1297.5 154 L1298 146.5 L1298.5 139.1 L1299 132.7 L1299.5 126.5 L1300 120.3 L1300.5 114.2 L1301 106.4 L1301.5 98.7 L1302 90.9 L1302.5 82.2 L1303 73.6 L1303.5 62.6 L1304 48.1 L1304.5 20 L1304.5 20" fill="none" stroke="#8a8a8a" stroke-width="1.2"/>
<path d="M806 420.8 L812 420 L818 419.3 L824 418.5 L830 417.7 L836 416.8 L842 416 L848 415.1 L854 414.2 L860 413.2 L866 412.3 L872 411.3 L878 410.3 L884 409.2 L890 408.1 L896 407 L902 405.9 L908 404.7 L914 403.5 L920 402.3 L926 401 L932 399.7 L938 398.4 L944 397 L950 395.6 L956 394.1 L962 392.6 L968 391.1 L974 389.5 L980 387.9 L986 386.2 L992 384.5 L998 382.7 L1004 380.9 L1010 379 L1016 377.1 L1022 375.1 L1028 373.1 L1034 371 L1040 368.8 L1046 366.6 L1052 364.3 L1058 362 L1064 359.6 L1070 357.1 L1076 354.6 L1082 352 L1088 349.3 L1094 346.5 L1100 343.7 L1106 340.8 L1112 337.8 L1118 334.7 L1124 331.5 L1130 328.2 L1136 324.9 L1142 321.4 L1148 317.9 L1154 314.2 L1160 310.5 L1166 306.6 L1172 302.7 L1178 298.6 L1184 294.4 L1190 290.1 L1196 285.7 L1202 281.1 L1208 276.5 L1214 271.6 L1220 266.7 L1226 261.6 L1232 256.4 L1238 251 L1244 245.5 L1250 239.8 L1250.5 239.3 L1251 238.8 L1251.5 238.4 L1252 237.9 L1252.5 237.4 L1253 236.9 L1253.5 236.4 L1254 235.9 L1254.5 235.4 L1255 234.8 L1255.5 234.3 L1256 233.8 L1256.5 233.2 L1257 232.7 L1257.5 232.1 L1258 231.6 L1258.5 231.1 L1259 230.5 L1259.5 230 L1260 229.4 L1260.5 228.9 L1261 228.3 L1261.5 227.8 L1262 227.2 L1262.5 226.7 L1263 226.1 L1263.5 225.6 L1264 225 L1264.5 224.5 L1265 223.9 L1265.5 223.3 L1266 222.6 L1266.5 221.9 L1267 221.2 L1267.5 220.6 L1268 219.9 L1268.5 219.2 L1269 218.5 L1269.5 217.9 L1270 217.2 L1270.5 216.5 L1271 215.8 L1271.5 215.2 L1272 214.5 L1272.5 213.8 L1273 213.1 L1273.5 212.4 L1274 211.7 L1274.5 211 L1275 210.3 L1275.5 209.5 L1276 208.6 L1276.5 207.8 L1277 206.9 L1277.5 206.1 L1278 205.2 L1278.5 204.3 L1279 203.5 L1279.5 202.6 L1280 201.7 L1280.5 200.9 L1281 200 L1281.5 199.1 L1282 198.3 L1282.5 197.4 L1283 196.5 L1283.5 195.7 L1284 194.8 L1284.5 193.9 L1285 193 L1285.5 191.1 L1286 188.4 L1286.5 185.8 L1287 183.1 L1287.5 180.5 L1288 177.6 L1288.5 174 L1289 170.3 L1289.5 166.6 L1290 163.1 L1290.5 159.9 L1291 156.6 L1291.5 153.4 L1292 149.8 L1292.5 145.7 L1293 141.6 L1293.5 137.4 L1294 131.2 L1294.5 125 L1295 118.5 L1295.5 112 L1296 107.9 L1296.5 103.8 L1297 99.7 L1297.5 95.4 L1298 91.2 L1298.5 86.9 L1299 83.1 L1299.5 79.5 L1300 75.8 L1300.5 72.2 L1301 67.7 L1301.5 63.3 L1302 58.8 L1302.5 53.9 L1303 49 L1303.5 42.8 L1304 34.9 L1304.5 20 L1304.5 20" fill="none" stroke="#555" stroke-width="1.2"/>
<path d="M806 413.7 L812 412.8 L818 411.8 L824 410.8 L830 409.8 L836 408.7 L842 407.7 L848 406.5 L854 405.4 L860 404.2 L866 403 L872 401.7 L878 400.4 L884 399.1 L890 397.8 L896 396.4 L902 394.9 L908 393.5 L914 391.9 L920 390.4 L926 388.8 L932 387.1 L938 385.4 L944 383.7 L950 381.9 L956 380 L962 378.2 L968 376.2 L974 374.2 L980 372.1 L986 370 L992 367.8 L998 365.6 L1004 363.3 L1010 360.9 L1016 358.5 L1022 356 L1028 353.4 L1034 350.8 L1040 348.1 L1046 345.3 L1052 342.4 L1058 339.4 L1064 336.4 L1070 333.3 L1076 330.1 L1082 326.8 L1088 323.4 L1094 319.9 L1100 316.3 L1106 312.6 L1112 308.8 L1118 304.9 L1124 300.9 L1130 296.8 L1136 292.5 L1142 288.2 L1148 283.7 L1154 279.1 L1160 274.4 L1166 269.5 L1172 264.5 L1178 259.3 L1184 254 L1190 248.6 L1196 243 L1202 237.2 L1208 231.3 L1214 225.2 L1220 219 L1226 212.6 L1232 206 L1238 199.2 L1244 192.2 L1250 185 L1250.5 184.4 L1251 183.8 L1251.5 183.2 L1252 182.6 L1252.5 181.9 L1253 181.3 L1253.5 180.7 L1254 180.1 L1254.5 179.4 L1255 178.8 L1255.5 178.1 L1256 177.5 L1256.5 176.8 L1257 176.2 L1257.5 175.5 L1258 174.9 L1258.5 174.2 L1259 173.6 L1259.5 172.9 L1260 172.3 L1260.5 171.6 L1261 170.9 L1261.5 170.3 L1262 169.6 L1262.5 169 L1263 168.3 L1263.5 167.6 L1264 166.9 L1264.5 166.3 L1265 165.6 L1265.5 164.9 L1266 164.1 L1266.5 163.4 L1267 162.6 L1267.5 161.9 L1268 161.2 L1268.5 160.4 L1269 159.7 L1269.5 158.9 L1270 158.2 L1270.5 157.4 L1271 156.7 L1271.5 155.9 L1272 155.2 L1272.5 154.4 L1273 153.6 L1273.5 152.9 L1274 152.1 L1274.5 151.3 L1275 150.6 L1275.5 149.7 L1276 148.9 L1276.5 148 L1277 147.1 L1277.5 146.3 L1278 145.4 L1278.5 144.5 L1279 143.7 L1279.5 142.8 L1280 141.9 L1280.5 141.1 L1281 140.2 L1281.5 139.3 L1282 138.4 L1282.5 137.5 L1283 136.7 L1283.5 135.8 L1284 134.9 L1284.5 134 L1285 133.1 L1285.5 131.6 L1286 129.8 L1286.5 127.9 L1287 126 L1287.5 124.1 L1288 122.1 L1288.5 119.6 L1289 117.2 L1289.5 114.7 L1290 112.4 L1290.5 110.1 L1291 107.9 L1291.5 105.7 L1292 103.2 L1292.5 100.5 L1293 97.8 L1293.5 95.1 L1294 91.2 L1294.5 87.3 L1295 83.3 L1295.5 79.2 L1296 76.5 L1296.5 73.8 L1297 71 L1297.5 68.2 L1298 65.4 L1298.5 62.6 L1299 60.1 L1299.5 57.6 L1300 55.1 L1300.5 52.7 L1301 49.7 L1301.5 46.8 L1302 43.9 L1302.5 40.7 L1303 37.5 L1303.5 33.7 L1304 28.8 L1304.5 20 L1304.5 20" fill="none" stroke="#3a3a3a" stroke-width="1.2"/>
<path d="M806 404.8 L812 403.6 L818 402.4 L824 401.1 L830 399.8 L836 398.5 L842 397.1 L848 395.7 L854 394.2 L860 392.7 L866 391.2 L872 389.6 L878 388 L884 386.3 L890 384.6 L896 382.8 L902 381 L908 379.1 L914 377.2 L920 375.2 L926 373.2 L932 371.1 L938 369 L944 366.7 L950 364.5 L956 362.1 L962 359.7 L968 357.3 L974 354.7 L980 352.1 L986 349.5 L992 346.7 L998 343.9 L1004 340.9 L1010 338 L1016 334.9 L1022 331.7 L1028 328.4 L1034 325.1 L1040 321.7 L1046 318.1 L1052 314.5 L1058 310.7 L1064 306.9 L1070 302.9 L1076 298.9 L1082 294.7 L1088 290.4 L1094 286 L1100 281.4 L1106 276.8 L1112 272 L1118 267 L1124 262 L1130 256.7 L1136 251.4 L1142 245.8 L1148 240.2 L1154 234.3 L1160 228.3 L1166 222.2 L1172 215.8 L1178 209.3 L1184 202.6 L1190 195.7 L1196 188.7 L1202 181.4 L1208 173.9 L1214 166.2 L1220 158.3 L1226 150.1 L1232 141.8 L1238 133.2 L1244 124.3 L1250 115.2 L1250.5 114.5 L1251 113.7 L1251.5 112.9 L1252 112.2 L1252.5 111.4 L1253 110.6 L1253.5 109.8 L1254 109 L1254.5 108.3 L1255 107.5 L1255.5 106.7 L1256 105.9 L1256.5 105.1 L1257 104.3 L1257.5 103.5 L1258 102.7 L1258.5 101.9 L1259 101.1 L1259.5 100.3 L1260 99.5 L1260.5 98.7 L1261 97.9 L1261.5 97.1 L1262 96.3 L1262.5 95.5 L1263 94.7 L1263.5 93.8 L1264 93 L1264.5 92.2 L1265 91.4 L1265.5 90.5 L1266 89.7 L1266.5 88.9 L1267 88.1 L1267.5 87.2 L1268 86.4 L1268.5 85.6 L1269 84.7 L1269.5 83.9 L1270 83 L1270.5 82.2 L1271 81.4 L1271.5 80.5 L1272 79.7 L1272.5 78.8 L1273 78 L1273.5 77.1 L1274 76.2 L1274.5 75.4 L1275 74.5 L1275.5 73.7 L1276 72.8 L1276.5 71.9 L1277 71.1 L1277.5 70.2 L1278 69.3 L1278.5 68.4 L1279 67.6 L1279.5 66.7 L1280 65.8 L1280.5 64.9 L1281 64 L1281.5 63.1 L1282 62.2 L1282.5 61.4 L1283 60.5 L1283.5 59.6 L1284 58.7 L1284.5 57.8 L1285 56.9 L1285.5 56 L1286 55.1 L1286.5 54.1 L1287 53.2 L1287.5 52.3 L1288 51.4 L1288.5 50.5 L1289 49.6 L1289.5 48.7 L1290 47.7 L1290.5 46.8 L1291 45.9 L1291.5 44.9 L1292 44 L1292.5 43.1 L1293 42.1 L1293.5 41.2 L1294 40.3 L1294.5 39.3 L1295 38.4 L1295.5 37.4 L1296 36.5 L1296.5 35.5 L1297 34.6 L1297.5 33.6 L1298 32.7 L1298.5 31.7 L1299 30.7 L1299.5 29.8 L1300 28.8 L1300.5 27.8 L1301 26.9 L1301.5 25.9 L1302 24.9 L1302.5 23.9 L1303 23 L1303.5 22 L1304 21 L1304.5 20 L1304.5 20" fill="none" stroke="#1a1a1a" stroke-width="2"/>
<circle cx="918.5" cy="443.9" r="4.7" fill="#4a4a4a"/>
<circle cx="968" cy="431.8" r="4.7" fill="#4a4a4a"/>
<circle cx="1001.6" cy="419.6" r="4.7" fill="#4a4a4a"/>
<circle cx="1035" cy="406.3" r="4.7" fill="#4a4a4a"/>
<circle cx="1069" cy="387.6" r="4.7" fill="#4a4a4a"/>
<circle cx="1087" cy="372.4" r="4.7" fill="#4a4a4a"/>
<circle cx="1119.3" cy="349" r="4.7" fill="#4a4a4a"/>
<circle cx="1136.6" cy="336.6" r="4.7" fill="#4a4a4a"/>
<circle cx="1153" cy="325.2" r="4.7" fill="#4a4a4a"/>
<circle cx="1170.3" cy="313.1" r="4.7" fill="#4a4a4a"/>
<circle cx="1186.6" cy="299.5" r="4.7" fill="#4a4a4a"/>
<circle cx="1204.5" cy="283.3" r="4.7" fill="#4a4a4a"/>
<circle cx="1220.6" cy="266" r="4.7" fill="#4a4a4a"/>
<circle cx="1238" cy="244" r="4.7" fill="#4a4a4a"/>
<circle cx="1254.2" cy="219.9" r="4.7" fill="#4a4a4a"/>
<circle cx="1271" cy="186.7" r="4.7" fill="#4a4a4a"/>
<circle cx="1285.6" cy="110.7" r="4.7" fill="#4a4a4a"/>
<circle cx="1304.3" cy="19.6" r="5.5" fill="#4a4a4a"/>
<path d="M805.6 20 H1321.2 V447.4 H805.6 Z" fill="none" stroke="#111" stroke-width="2.2"/>
<path d="M797.5 447.4 H805.6" stroke="#333" stroke-width="1.6"/>
<text transform="translate(792,457) scale(1.02,1.08)" text-anchor="end" class="tr">0</text>
<path d="M797.5 361.9 H805.6" stroke="#333" stroke-width="1.6"/>
<text transform="translate(792,371.5) scale(1.02,1.08)" text-anchor="end" class="tr">20</text>
<path d="M797.5 276.4 H805.6" stroke="#333" stroke-width="1.6"/>
<text transform="translate(792,286) scale(1.02,1.08)" text-anchor="end" class="tr">40</text>
<path d="M797.5 191 H805.6" stroke="#333" stroke-width="1.6"/>
<text transform="translate(792,200.6) scale(1.02,1.08)" text-anchor="end" class="tr">60</text>
<path d="M797.5 105.5 H805.6" stroke="#333" stroke-width="1.6"/>
<text transform="translate(792,115.1) scale(1.02,1.08)" text-anchor="end" class="tr">80</text>
<path d="M797.5 20 H805.6" stroke="#333" stroke-width="1.6"/>
<text transform="translate(792,29.6) scale(1.02,1.08)" text-anchor="end" class="tr">100</text>
<path d="M805.6 447.4 V456.8" stroke="#333" stroke-width="1.6"/>
<text transform="translate(805.6,487) scale(1.02,1.08)" text-anchor="middle" class="tr">0.01</text>
<path d="M1029.6 447.4 V456.8" stroke="#333" stroke-width="1.6"/>
<text transform="translate(1029.6,487) scale(1.02,1.08)" text-anchor="middle" class="tr">0.1</text>
<path d="M1253.6 447.4 V456.8" stroke="#333" stroke-width="1.6"/>
<text transform="translate(1253.6,487) scale(1.02,1.08)" text-anchor="middle" class="tr">1.0</text>
<text x="1063.6" y="518.2" text-anchor="middle" class="tr">grain size (mm)</text>
<text transform="translate(748.3,234) rotate(-90)" text-anchor="middle" class="tr">per cent finer</text>
<rect x="809" y="24.2" width="292.7" height="177" fill="#111"/>
<rect x="805.6" y="19.3" width="291.7" height="175.6" fill="#fff" stroke="#222" stroke-width="1.4"/>
<path d="M805.6 20 H1321.2 M805.6 20 V447.4" fill="none" stroke="#111" stroke-width="2.2"/>
<path d="M843.1 37.6 H853.2 M871.7 37.6 H882.1 M904 37.6 H910.7" stroke="#6e6e6e" stroke-width="5"/>
<path d="M877.1 62.6 L882.1 71.6 L872.1 71.6 Z" fill="#c8c8c8" stroke="#6a6a6a" stroke-width="1.2"/>
<path d="M877.1 88.8 L882.1 93.8 L877.1 98.8 L872.1 93.8 Z" fill="#fff" stroke="#8a8a8a" stroke-width="1.2"/>
<circle cx="877.1" cy="122.2" r="5" fill="#4a4a4a"/>
<rect x="872.4" y="145.2" width="9.4" height="8.5" fill="none" stroke="#555" stroke-width="1.3"/>
<path d="M843 175 H911.4" stroke="#111" stroke-width="1.6"/>
<text transform="translate(930.5,47.5) scale(1.03,1.1)" class="tr">1.7–9.6</text>
<text transform="translate(1008,47.5) scale(1.03,1.08)" class="tr">MPa</text>
<text transform="translate(929,74.4) scale(0.97,1.1)" class="tr">14</text>
<text transform="translate(958,74.4) scale(1.03,1.08)" class="tr">MPa</text>
<text transform="translate(929,101.3) scale(0.97,1.1)" class="tr">23</text>
<text transform="translate(958,101.3) scale(1.03,1.08)" class="tr">MPa</text>
<text transform="translate(929,128.2) scale(0.97,1.1)" class="tr">46</text>
<text transform="translate(958,128.2) scale(1.03,1.08)" class="tr">MPa</text>
<text transform="translate(929,155.1) scale(0.97,1.1)" class="tr">92</text>
<text transform="translate(958,155.1) scale(1.03,1.08)" class="tr">MPa</text>
<text transform="translate(929.5,181.5) scale(1.0,1.07)" class="tr">fractal–ultimate</text>
<rect x="889.6" y="259.5" width="104.9" height="35.2" fill="#fff" stroke="#333" stroke-width="1.5"/>
<text x="941.6" y="285.4" text-anchor="middle" class="tr">theory</text>
<rect x="1018.4" y="212.1" width="87.7" height="35" fill="#fff" stroke="#333" stroke-width="1.5"/>
<text x="1062" y="238.1" text-anchor="middle" class="tr">data</text>
<path d="M942.4 295 L947.7 425" stroke="#1a1a1a" stroke-width="3.2"/><path d="M948.4 441 L941.7 425.3 L953.7 424.8 Z" fill="#1a1a1a"/>
<path d="M942.4 295 L969.9 406.1" stroke="#1a1a1a" stroke-width="3.2"/><path d="M973.8 421.6 L964.1 407.5 L975.8 404.6 Z" fill="#1a1a1a"/>
<path d="M942.4 295 L977.7 372.6" stroke="#1a1a1a" stroke-width="3.2"/><path d="M984.3 387.2 L972.2 375.1 L983.1 370.2 Z" fill="#1a1a1a"/>
<path d="M942.4 295 L984.2 355.2" stroke="#1a1a1a" stroke-width="3.2"/><path d="M993.3 368.3 L979.2 358.6 L989.1 351.7 Z" fill="#1a1a1a"/>
<path d="M1059.6 248.6 L1125.7 280.2" stroke="#1a1a1a" stroke-width="3.2"/><path d="M1140.1 287.1 L1123.1 285.6 L1128.3 274.8 Z" fill="#1a1a1a"/>
<path d="M1059.6 248.6 L1143.2 314.5" stroke="#1a1a1a" stroke-width="3.2"/><path d="M1155.8 324.4 L1139.5 319.2 L1146.9 309.8 Z" fill="#1a1a1a"/>
<path d="M1059.6 248.6 L1159.9 380.4" stroke="#1a1a1a" stroke-width="3.2"/><path d="M1169.6 393.1 L1155.1 384 L1164.7 376.7 Z" fill="#1a1a1a"/>
<path d="M1059.6 248.6 L1145 427.8" stroke="#1a1a1a" stroke-width="3.2"/><path d="M1151.9 442.2 L1139.6 430.3 L1150.4 425.2 Z" fill="#1a1a1a"/>
</svg>
</body></html>
